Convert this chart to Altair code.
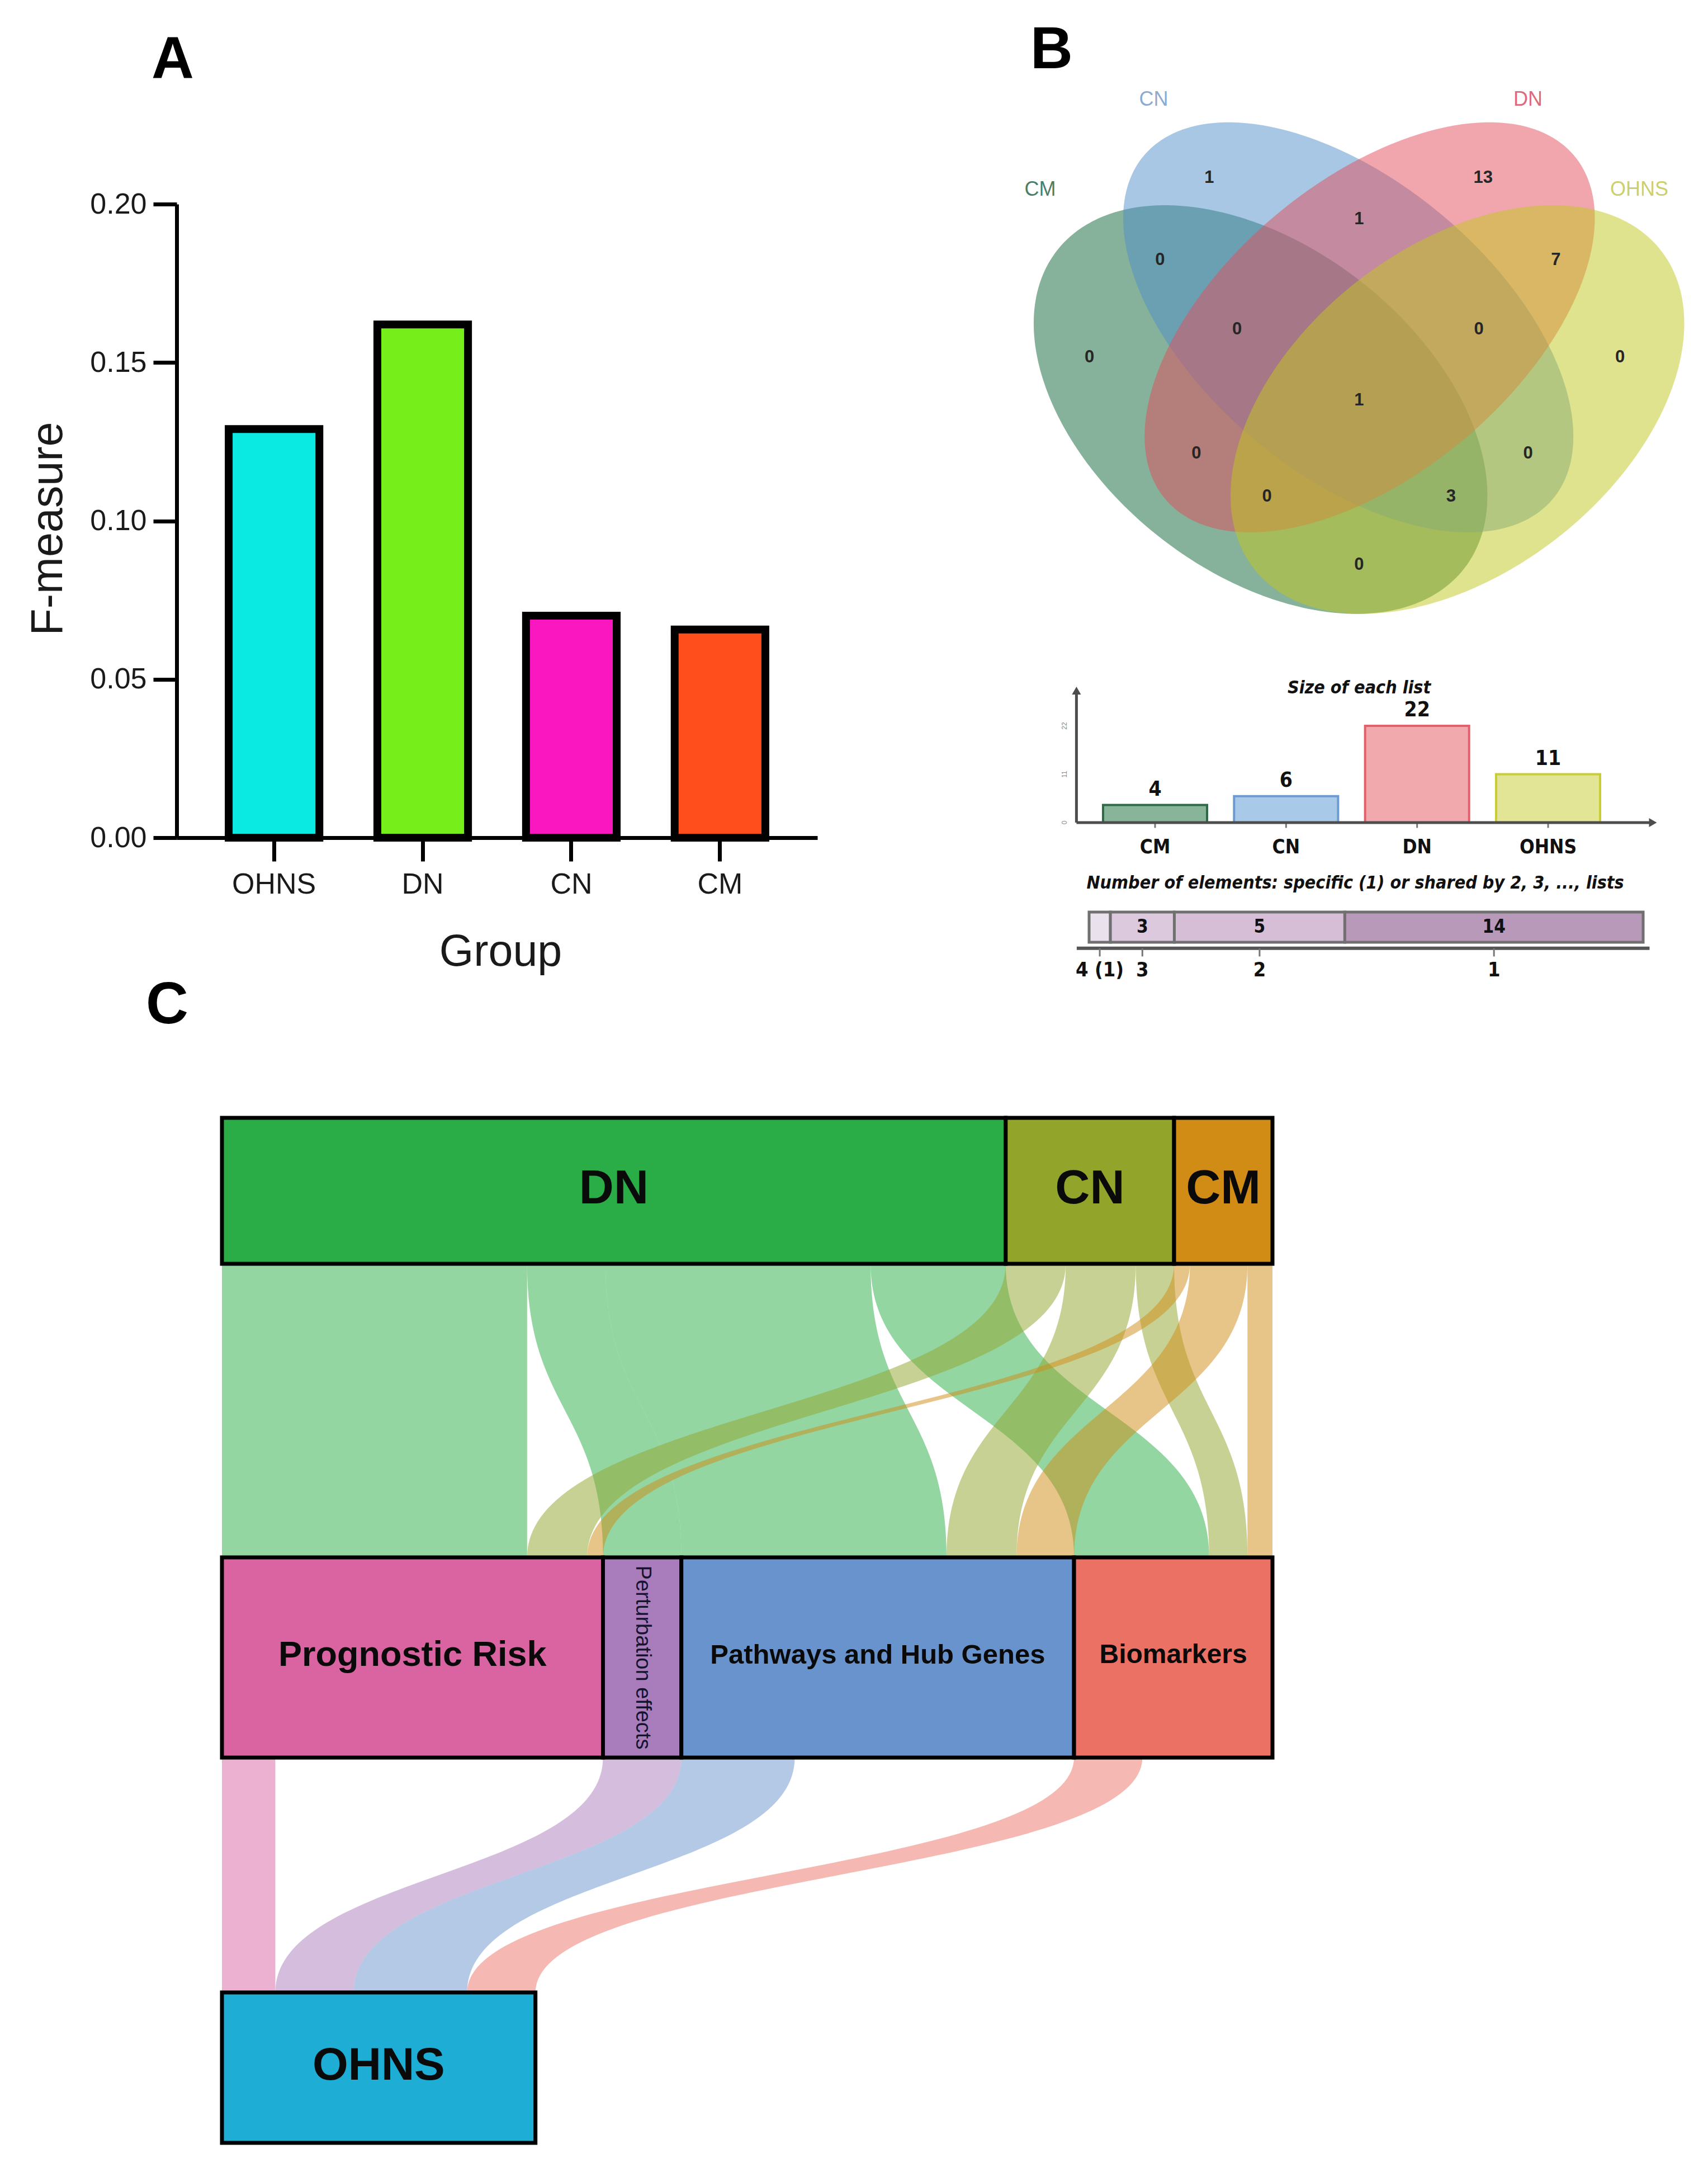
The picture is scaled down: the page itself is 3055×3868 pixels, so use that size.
import numpy as np
import pandas as pd
import altair as alt

W, H = 3039, 3852
SANS = "Liberation Sans, Arial, Helvetica, sans-serif"
NARROW = "Liberation Sans Narrow, Arial Narrow, DejaVu Sans Condensed, Liberation Sans, sans-serif"

# ======================= DATA =======================
# Panel A
a_groups = ["OHNS", "DN", "CN", "CM"]
a_fmeasure = [0.129, 0.162, 0.0701, 0.0657]
a_ticks = [0.0, 0.05, 0.10, 0.15, 0.20]

# Panel B (Venn + list sizes)
venn_sets = ["CM", "CN", "DN", "OHNS"]
venn_regions = ["CN", "DN", "CM", "OHNS", "CM&CN", "CN&DN", "DN&OHNS", "CM&CN&DN",
                "CN&DN&OHNS", "CM&CN&DN&OHNS", "CM&DN", "CN&OHNS", "CM&DN&OHNS",
                "CM&CN&OHNS", "CM&OHNS"]
venn_counts = [1, 13, 0, 0, 0, 1, 7, 0, 0, 1, 0, 0, 0, 3, 0]
list_names = ["CM", "CN", "DN", "OHNS"]
list_sizes = [4, 6, 22, 11]
shared_by = ["4 (1)", "3", "2", "1"]
shared_counts = [1, 3, 8, 14]
shared_text = ["", "3", "5", "14"]

# Panel C (Sankey)
top_nodes = ["DN", "CN", "CM"]
mid_nodes = ["Prognostic Risk", "Perturbation effects", "Pathways and Hub Genes", "Biomarkers"]
bottom_nodes = ["OHNS"]
flow1_src = ["DN", "DN", "DN", "DN", "CN", "CN", "CN", "CM", "CM", "CM"]
flow1_tgt = ["Prognostic Risk", "Perturbation effects", "Pathways and Hub Genes", "Biomarkers",
             "Prognostic Risk", "Pathways and Hub Genes", "Biomarkers",
             "Prognostic Risk", "Pathways and Hub Genes", "Biomarkers"]
flow1_val = [18.3, 4.7, 15.9, 8.1, 3.6, 4.2, 2.3, 0.95, 3.45, 1.5]
flow2_src = ["Prognostic Risk", "Perturbation effects", "Pathways and Hub Genes", "Biomarkers"]
flow2_val = [3.2, 4.7, 6.8, 4.1]

# ======================= STYLE / LAYOUT =======================
A_COLORS = ["#0BE9E3", "#76EE1A", "#FA17BF", "#FF4E1C"]

VENN_FILL = {"CM": "#0E6336", "CN": "#4F8FC9", "DN": "#E14D59", "OHNS": "#C1C71D"}
VENN_LABEL_COLOR = {"CM": "#4C7E66", "CN": "#8DAAD0", "DN": "#DD6A7C", "OHNS": "#CBCF6E"}
# ellipse geometry in venn units: centre x, centre y, semi-major, semi-minor, rotation
VENN_GEOM = {"CM": (424.7, 732.4, 462, 291, 38), "CN": (581.6, 585.4, 477.5, 261.7, 40),
             "DN": (619.9, 585.4, 477.5, 261.7, -40), "OHNS": (776.8, 732.4, 462, 291, -38)}
VENN_REGION_XY = [(332.9, 317.6), (822.7, 317.6), (118.6, 639), (1067.6, 639), (244.9, 465.3),
                  (600.8, 391.8), (952.8, 465.3), (382.6, 589.3), (815, 589.3), (600.8, 715.5),
                  (309.9, 811.2), (903, 811.2), (436.2, 887.7), (765.3, 887.7), (600.8, 1010.2)]
VENN_LABEL_XY = {"CM": (30.6, 339), "CN": (233.4, 177.5), "DN": (903, 177.5), "OHNS": (1102, 339)}
LIST_FILL = ["#88B59A", "#A9C9E9", "#F2A9AE", "#E3E596"]
LIST_STROKE = ["#2E6B45", "#6C9BD0", "#E0606C", "#C8CC35"]
SHARED_FILL = ["#E9E1EB", "#DCC9DE", "#D5BED6", "#B899B9"]

NODE_COLOR = {"DN": "#2AAD46", "CN": "#92A42A", "CM": "#D08C14",
              "Prognostic Risk": "#DA64A1", "Perturbation effects": "#A97CBB",
              "Pathways and Hub Genes": "#6893CD", "Biomarkers": "#EB7165", "OHNS": "#1DADD5"}
ROW_TOP, ROW_MID, ROW_BOT = (0, 261), (786, 1144), (1564, 1833)
MID_FONT = {"Prognostic Risk": 63, "Pathways and Hub Genes": 49, "Biomarkers": 48}


def lin(domain, rng):
    return alt.Scale(domain=domain, range=rng, nice=False, zero=False)


# scales (canvas px ranges)
VX = lin([0, 1200], [1822, 3022])
VY = lin([0, 1200], [-8, 1192])
LX = lin([0, 3], [2058, 2761])
LY = lin([0, 22], [1463, 1290])
SX = lin([0, 26], [1940, 2931])
SY = lin([0, 1], [1677, 1623])
KX = lin([0, 63], [389, 2268])
KY = lin([0, 1833], [1991, 3824])

layers = []

# ======================= PANEL A =======================
dfA = pd.DataFrame({"Group": a_groups, "F": a_fmeasure, "col": A_COLORS})
barsA = alt.Chart(dfA).mark_bar(stroke="black", strokeWidth=14).encode(
    x=alt.X("Group:N", sort=a_groups,
            scale=alt.Scale(domain=a_groups, range=[308, 1454], paddingInner=0.39, paddingOuter=0.35),
            axis=alt.Axis(orient="bottom", offset=-(H - 1490), tickSize=42, tickWidth=7,
                          domainWidth=7, domainColor="black", tickColor="black",
                          labelFont=SANS, labelFontSize=52, labelColor="#1a1a1a", labelAngle=0,
                          labelPadding=16, title="Group", titleFont=SANS, titleFontSize=79,
                          titleFontWeight="normal", titleColor="#1a1a1a", titleX=887, titleY=228,
                          titleBaseline="alphabetic", titleAlign="center")),
    y=alt.Y("F:Q", scale=lin([0, 0.2], [1490, 357]),
            axis=alt.Axis(orient="left", offset=-308, values=a_ticks, format=".2f", grid=False,
                          tickSize=42, tickWidth=7, domainWidth=7, domainColor="black",
                          tickColor="black", labelFont=SANS, labelFontSize=52,
                          labelColor="#1a1a1a", labelPadding=12, title="F-measure",
                          titleFont=SANS, titleFontSize=79, titleFontWeight="normal",
                          titleColor="#1a1a1a", titleX=-206, titleY=937, titleAngle=270,
                          titleAlign="center", titleBaseline="alphabetic")),
    fill=alt.Fill("col:N", scale=None),
)
layers.append(barsA)

# ======================= PANEL B : VENN =======================
def ellipse_rows(name):
    cx, cy, a, b, th = VENN_GEOM[name]
    t = np.radians(th)
    c, s = np.cos(t), np.sin(t)
    A = c * c / a ** 2 + s * s / b ** 2
    B = 2 * s * c * (1 / a ** 2 - 1 / b ** 2)
    C = s * s / a ** 2 + c * c / b ** 2
    hh = np.sqrt(a * a * s * s + b * b * c * c)
    yr = -hh * np.cos(np.linspace(0, np.pi, 181))
    disc = np.clip(B * B * yr * yr - 4 * A * (C * yr * yr - 1), 0, None)
    xl = (-B * yr - np.sqrt(disc)) / (2 * A)
    xr = (-B * yr + np.sqrt(disc)) / (2 * A)
    return pd.DataFrame({"set": name, "y": cy + yr, "xl": cx + xl, "xr": cx + xr,
                         "col": VENN_FILL[name]})


for nm in venn_sets:
    layers.append(alt.Chart(ellipse_rows(nm)).mark_area(orient="horizontal", fillOpacity=0.5).encode(
        y=alt.Y("y:Q", scale=VY, axis=None),
        x=alt.X("xl:Q", scale=VX, axis=None, stack=None),
        x2="xr:Q",
        fill=alt.Fill("col:N", scale=None),
    ))

dfVR = pd.DataFrame({"region": venn_regions, "n": venn_counts,
                     "x": [p[0] for p in VENN_REGION_XY], "y": [p[1] for p in VENN_REGION_XY]})
layers.append(alt.Chart(dfVR).mark_text(font=SANS, fontSize=31, fontWeight="bold", color="#262626",
                                        baseline="middle", align="center").encode(
    x=alt.X("x:Q", scale=VX, axis=None), y=alt.Y("y:Q", scale=VY, axis=None), text="n:Q"))

dfVL = pd.DataFrame({"set": venn_sets, "x": [VENN_LABEL_XY[s][0] for s in venn_sets],
                     "y": [VENN_LABEL_XY[s][1] for s in venn_sets],
                     "col": [VENN_LABEL_COLOR[s] for s in venn_sets]})
layers.append(alt.Chart(dfVL).mark_text(font=SANS, fontSize=36, baseline="middle", align="center").encode(
    x=alt.X("x:Q", scale=VX, axis=None), y=alt.Y("y:Q", scale=VY, axis=None), text="set:N",
    color=alt.Color("col:N", scale=None)))

# ======================= PANEL B : list sizes =======================
HALF = 0.397
dfL = pd.DataFrame({"name": list_names, "size": list_sizes, "i": list(range(len(list_names))),
                    "fill": LIST_FILL, "stroke": LIST_STROKE})
dfL["x0"] = dfL["i"] - HALF
dfL["x1"] = dfL["i"] + HALF
dfL["zero"] = 0
layers.append(alt.Chart(dfL).mark_rect(strokeWidth=4).encode(
    x=alt.X("x0:Q", scale=LX, axis=None), x2="x1:Q",
    y=alt.Y("zero:Q", scale=LY, axis=None), y2="size:Q",
    fill=alt.Fill("fill:N", scale=None), stroke=alt.Stroke("stroke:N", scale=None)))
layers.append(alt.Chart(dfL).mark_text(font=NARROW, fontSize=37, fontWeight="bold", baseline="bottom",
                                       dy=-9, color="#111").encode(
    x=alt.X("i:Q", scale=LX, axis=None), y=alt.Y("size:Q", scale=LY, axis=None), text="size:Q"))
layers.append(alt.Chart(dfL).mark_text(font=NARROW, fontSize=35, fontWeight="bold", baseline="middle",
                                       dy=44, color="#111").encode(
    x=alt.X("i:Q", scale=LX, axis=None), y=alt.Y("zero:Q", scale=LY, axis=None), text="name:N"))
# x ticks under the axis
dfL["tk"] = -1.2
layers.append(alt.Chart(dfL).mark_rule(color="#777", strokeWidth=3).encode(
    x=alt.X("i:Q", scale=LX, axis=None), y=alt.Y("zero:Q", scale=LY, axis=None), y2="tk:Q"))
# axis lines with arrows
dfAx = pd.DataFrame({"x": [-0.6, -0.6], "x2": [3.8, -0.6], "y": [0, 0], "y2": [0, 30]})
layers.append(alt.Chart(dfAx).mark_rule(color="#4d4d4d", strokeWidth=5).encode(
    x=alt.X("x:Q", scale=LX, axis=None), x2="x2:Q",
    y=alt.Y("y:Q", scale=LY, axis=None), y2="y2:Q"))
dfArr = pd.DataFrame({"x": [3.8, -0.6], "y": [0, 30], "shape": ["triangle-right", "triangle-up"]})
layers.append(alt.Chart(dfArr).mark_point(filled=True, size=260, color="#4d4d4d", opacity=1).encode(
    x=alt.X("x:Q", scale=LX, axis=None), y=alt.Y("y:Q", scale=LY, axis=None),
    shape=alt.Shape("shape:N", scale=None)))
dfYt = pd.DataFrame({"v": [0, 11, 22], "x": [-0.69] * 3})
layers.append(alt.Chart(dfYt).mark_text(font=SANS, fontSize=12, angle=270, color="#888",
                                        baseline="middle").encode(
    x=alt.X("x:Q", scale=LX, axis=None), y=alt.Y("v:Q", scale=LY, axis=None), text="v:Q"))
dfT1 = pd.DataFrame({"t": ["Size of each list"], "x": [1.558], "y": [30.7]})
layers.append(alt.Chart(dfT1).mark_text(font=NARROW, fontSize=32, fontStyle="italic", fontWeight="bold",
                                        baseline="middle", color="#111").encode(
    x=alt.X("x:Q", scale=LX, axis=None), y=alt.Y("y:Q", scale=LY, axis=None), text="t:N"))

# ======================= PANEL B : shared-by bar =======================
starts = np.concatenate([[0], np.cumsum(shared_counts)[:-1]])
dfS = pd.DataFrame({"deg": shared_by, "n": shared_counts, "lab": shared_text,
                    "s": starts, "e": starts + np.array(shared_counts), "fill": SHARED_FILL})
dfS["mid"] = (dfS["s"] + dfS["e"]) / 2
dfS["y0"], dfS["y1"], dfS["ym"] = 0.0, 1.0, 0.5
dfS["ya"], dfS["yt"], dfS["yl"] = -0.2, -0.47, -0.93
layers.append(alt.Chart(dfS).mark_rect(stroke="#707070", strokeWidth=5).encode(
    x=alt.X("s:Q", scale=SX, axis=None), x2="e:Q",
    y=alt.Y("y0:Q", scale=SY, axis=None), y2="y1:Q",
    fill=alt.Fill("fill:N", scale=None)))
layers.append(alt.Chart(dfS).mark_text(font=NARROW, fontSize=33, fontWeight="bold", baseline="middle",
                                       color="#111").encode(
    x=alt.X("mid:Q", scale=SX, axis=None), y=alt.Y("ym:Q", scale=SY, axis=None), text="lab:N"))
dfSA = pd.DataFrame({"x": [-0.58], "x2": [26.3], "y": [-0.2]})
layers.append(alt.Chart(dfSA).mark_rule(color="#555", strokeWidth=6).encode(
    x=alt.X("x:Q", scale=SX, axis=None), x2="x2:Q", y=alt.Y("y:Q", scale=SY, axis=None)))
layers.append(alt.Chart(dfS).mark_rule(color="#777", strokeWidth=3).encode(
    x=alt.X("mid:Q", scale=SX, axis=None), y=alt.Y("ya:Q", scale=SY, axis=None), y2="yt:Q"))
layers.append(alt.Chart(dfS).mark_text(font=NARROW, fontSize=36, fontWeight="bold", baseline="middle",
                                       color="#111").encode(
    x=alt.X("mid:Q", scale=SX, axis=None), y=alt.Y("yl:Q", scale=SY, axis=None), text="deg:N"))
dfT2 = pd.DataFrame({"t": ["Number of elements: specific (1) or shared by 2, 3, ..., lists"],
                     "x": [12.49], "y": [1.96]})
layers.append(alt.Chart(dfT2).mark_text(font=NARROW, fontSize=32, fontStyle="italic", fontWeight="bold",
                                        baseline="middle", color="#111").encode(
    x=alt.X("x:Q", scale=SX, axis=None), y=alt.Y("y:Q", scale=SY, axis=None), text="t:N"))

# ======================= PANEL C : SANKEY =======================
top_size = {n: sum(v for s, v in zip(flow1_src, flow1_val) if s == n) for n in top_nodes}
mid_size = {n: sum(v for t, v in zip(flow1_tgt, flow1_val) if t == n) for n in mid_nodes}
bot_size = {"OHNS": sum(flow2_val)}


def stack_nodes(names, sizes):
    pos, x = {}, 0.0
    for n in names:
        pos[n] = [x, x + sizes[n]]
        x += sizes[n]
    return pos


top_pos = stack_nodes(top_nodes, top_size)
mid_pos = stack_nodes(mid_nodes, mid_size)
bot_pos = stack_nodes(bottom_nodes, bot_size)


def ribbon(fid, s0, s1, t0, t1, ya, yb, col):
    t = np.linspace(0, 1, 80)
    y = ya + (yb - ya) * (1.5 * t - 1.5 * t * t + t ** 3)
    f = 3 * t * t - 2 * t ** 3
    return pd.DataFrame({"flow": fid, "y": y, "xl": s0 + (t0 - s0) * f, "xr": s1 + (t1 - s1) * f,
                         "col": col})


ribs = []
out_ptr = {n: top_pos[n][0] for n in top_nodes}
in_ptr = {n: mid_pos[n][0] for n in mid_nodes}
for k, (s, t, v) in enumerate(zip(flow1_src, flow1_tgt, flow1_val)):
    ribs.append(ribbon(f"a{k}", out_ptr[s], out_ptr[s] + v, in_ptr[t], in_ptr[t] + v,
                       ROW_TOP[1], ROW_MID[0], NODE_COLOR[s]))
    out_ptr[s] += v
    in_ptr[t] += v
ptr = bot_pos["OHNS"][0]
for k, (s, v) in enumerate(zip(flow2_src, flow2_val)):
    s0 = mid_pos[s][0]
    ribs.append(ribbon(f"b{k}", s0, s0 + v, ptr, ptr + v, ROW_MID[1], ROW_BOT[0], NODE_COLOR[s]))
    ptr += v
for r in ribs:
    layers.append(alt.Chart(r).mark_area(orient="horizontal", fillOpacity=0.5).encode(
        y=alt.Y("y:Q", scale=KY, axis=None),
        x=alt.X("xl:Q", scale=KX, axis=None, stack=None), x2="xr:Q",
        fill=alt.Fill("col:N", scale=None)))

node_rows = []
for names, pos, row in [(top_nodes, top_pos, ROW_TOP), (mid_nodes, mid_pos, ROW_MID),
                        (bottom_nodes, bot_pos, ROW_BOT)]:
    for n in names:
        node_rows.append({"node": n, "x0": pos[n][0], "x1": pos[n][1], "y0": row[0], "y1": row[1],
                          "xm": (pos[n][0] + pos[n][1]) / 2, "ym": (row[0] + row[1]) / 2,
                          "col": NODE_COLOR[n]})
dfN = pd.DataFrame(node_rows)
layers.append(alt.Chart(dfN).mark_rect(stroke="black", strokeWidth=7).encode(
    x=alt.X("x0:Q", scale=KX, axis=None), x2="x1:Q",
    y=alt.Y("y0:Q", scale=KY, axis=None), y2="y1:Q",
    fill=alt.Fill("col:N", scale=None)))

dfNL = dfN[dfN["node"] != "Perturbation effects"].copy()
dfNL["fs"] = [MID_FONT.get(n, 86 if n != "OHNS" else 82) for n in dfNL["node"]]
layers.append(alt.Chart(dfNL).mark_text(font=SANS, fontWeight="bold", color="#0a0a0a",
                                        baseline="middle", dy=-4).encode(
    x=alt.X("xm:Q", scale=KX, axis=None), y=alt.Y("ym:Q", scale=KY, axis=None),
    text="node:N", size=alt.Size("fs:Q", scale=None)))
dfPL = dfN[dfN["node"] == "Perturbation effects"]
layers.append(alt.Chart(dfPL).mark_text(font=SANS, fontSize=38, angle=90, color="#14142e",
                                        baseline="middle").encode(
    x=alt.X("xm:Q", scale=KX, axis=None), y=alt.Y("ym:Q", scale=KY, axis=None), text="node:N"))

# ======================= PANEL LETTERS =======================
for letter, px, py in [("A", 301, 132), ("B", 1873, 114), ("C", 291, 1822)]:
    layers.append(alt.Chart(pd.DataFrame({"t": [letter]})).mark_text(
        font=SANS, fontSize=105, fontWeight="bold", color="black", baseline="alphabetic",
        align="center").encode(x=alt.value(px), y=alt.value(py), text="t:N"))

chart = alt.layer(*layers).resolve_scale(
    x="independent", y="independent"
).properties(
    width=W, height=H, autosize=alt.AutoSizeParams(type="none"), padding=0, background="white"
).configure_view(stroke=None)

chart.save("out.html", embed_options={"renderer": "svg", "actions": False})
